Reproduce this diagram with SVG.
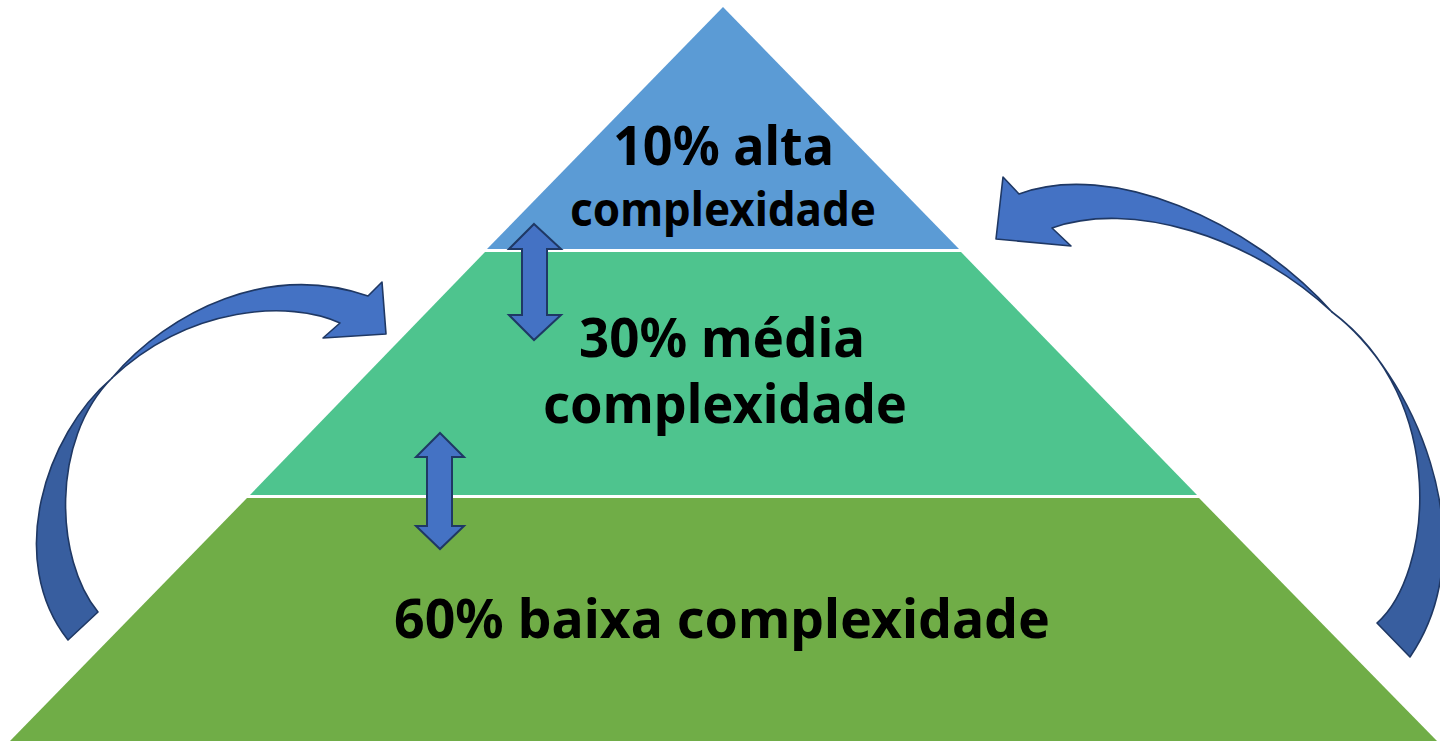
<svg xmlns="http://www.w3.org/2000/svg" width="1440" height="741" viewBox="0 0 1440 741">
<style>
.lbl{font-family:"Noto Sans","Open Sans","DejaVu Sans",sans-serif;font-weight:bold;fill:#000}
.dbl{fill:#4472C4;stroke:#1F3864;stroke-width:2;stroke-linejoin:miter}
.cl{fill:#4472C4;stroke:#1F3864;stroke-width:1.6;stroke-linejoin:round}
.cd{fill:#385E9F;stroke:#1F3864;stroke-width:1.6;stroke-linejoin:round}
</style>
<rect width="1440" height="741" fill="#FFFFFF"/>
<g id="level-top">
<polygon points="723,7 959,249 487,249" fill="#5B9BD5"/>
<text class="lbl" x="613" y="165" font-size="54" textLength="221" lengthAdjust="spacingAndGlyphs">10% alta</text>
<text class="lbl" x="570" y="226" font-size="46" textLength="306" lengthAdjust="spacingAndGlyphs">complexidade</text>
</g>
<g id="level-middle">
<polygon points="485,252 961,252 1197,495 250,495" fill="#4EC48E"/>
<text class="lbl" x="579" y="357" font-size="54" textLength="286" lengthAdjust="spacingAndGlyphs">30% média</text>
<text class="lbl" x="543" y="423" font-size="54" textLength="364" lengthAdjust="spacingAndGlyphs">complexidade</text>
</g>
<g id="level-bottom">
<polygon points="247,498 1199,498 1437,741 10,741" fill="#70AD47"/>
<text class="lbl" x="394" y="638" font-size="54" textLength="656" lengthAdjust="spacingAndGlyphs">60% baixa complexidade</text>
</g>
<g id="connectors">
<path class="dbl" d="M534,224 L561,249 L547,249 L547,315 L561,315 L534,340 L509,315 L522,315 L522,249 L509,249 Z"/>
<path class="dbl" d="M440,433 L464,457 L452,457 L452,526 L464,526 L440,549 L416,526 L427,526 L427,457 L416,457 Z"/>
<g id="curved-left">
<path class="cd" d="M112,378 C45,435 5,560 68,640 L98,612 C55,560 50,440 112,378 Z"/>
<path class="cl" d="M112,378 C170,310 270,262 368,296 L382,282 L386,334 L323,338 L340,323 C290,300 190,305 112,378 Z"/>
</g>
<g id="curved-right">
<path class="cd" d="M1332,312 C1410,370 1490,540 1410,657 L1377,623 C1432,575 1450,400 1332,312 Z"/>
<path class="cl" d="M1332,312 C1250,220 1110,160 1019,194 L1003,177 L996,239 L1071,246 L1052,228 C1130,200 1250,235 1332,312 Z"/>
</g>
</g>
</svg>
